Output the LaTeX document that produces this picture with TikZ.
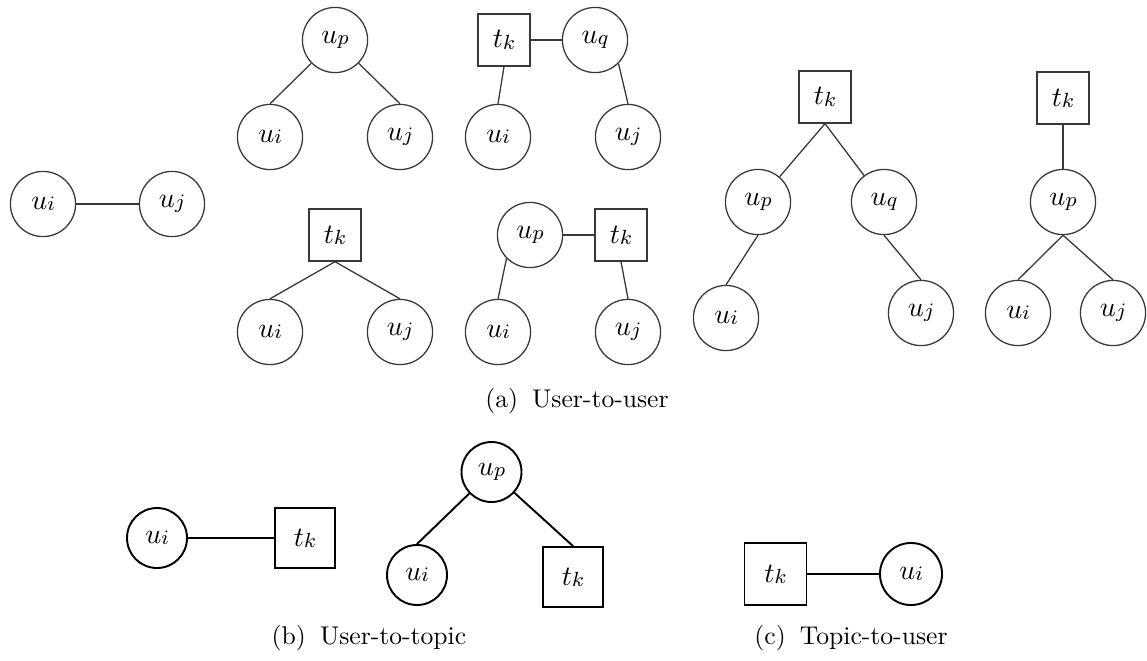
\documentclass[tikz,border=0pt]{standalone}
\usepackage{fontspec}
% italic symbol with a small subscript set close to the baseline
\newcommand\sym[2]{$#1$\raisebox{-0.5pt}{$\scriptstyle #2$}}
\definecolor{thinline}{HTML}{383838}
\tikzset{
  px/.style={x=0.39pt,y=-0.39pt},
  base/.style={inner sep=0pt,font=\fontsize{11.2}{13}\selectfont},
  ucirc/.style={base,circle,draw=thinline,line width=0.5pt,minimum size=25.4pt},
  tbox/.style={base,rectangle,draw=thinline,line width=0.5pt,minimum size=20.3pt},
  ucircb/.style={base,circle,draw=black,line width=0.75pt,minimum size=23.4pt},
  tboxb/.style={base,rectangle,draw=black,line width=0.75pt,minimum size=23.4pt},
  thinedge/.style={draw=thinline,line width=0.5pt},
  thickedge/.style={draw=black,line width=0.75pt},
  captext/.style={inner sep=0pt,font=\fontsize{10}{12}\selectfont}
}
\begin{document}
\begin{tikzpicture}[px]
\useasboundingbox (0,0) rectangle (1147,660);

% (a) user-to-user: direct link
\node[ucirc] (a1i) at (43,204) {\sym{u}{i}};
\node[ucirc] (a1j) at (172,204) {\sym{u}{j}};
\draw[thinedge] (a1i) -- (a1j);

% common user parent
\node[ucirc] (a2p) at (335,40) {\sym{u}{p}};
\node[ucirc] (a2i) at (270,137) {\sym{u}{i}};
\node[ucirc] (a2j) at (400,137) {\sym{u}{j}};
\draw[thinedge] (a2p) -- (a2i.north);
\draw[thinedge] (a2p) -- (a2j.north);

% topic linked to a second user
\node[tbox] (a3k) at (504,40) {\sym{t}{k}};
\node[ucirc] (a3q) at (595,40) {\sym{u}{q}};
\node[ucirc] (a3i) at (498,137) {\sym{u}{i}};
\node[ucirc] (a3j) at (628,137) {\sym{u}{j}};
\draw[thinedge] (a3k.east) -- (a3q.west);
\draw[thinedge] (a3k.south) -- (a3i.north);
\draw[thinedge] (a3q.south east) -- (a3j.north);

% common topic parent
\node[tbox] (a4k) at (335,235) {\sym{t}{k}};
\node[ucirc] (a4i) at (270,332) {\sym{u}{i}};
\node[ucirc] (a4j) at (400,332) {\sym{u}{j}};
\draw[thinedge] (a4k.south) -- (a4i.north);
\draw[thinedge] (a4k.south) -- (a4j.north);

% user linked to a topic
\node[ucirc] (a5p) at (530,235) {\sym{u}{p}};
\node[tbox] (a5k) at (621,235) {\sym{t}{k}};
\node[ucirc] (a5i) at (498,332) {\sym{u}{i}};
\node[ucirc] (a5j) at (628,332) {\sym{u}{j}};
\draw[thinedge] (a5p.east) -- (a5k.west);
\draw[thinedge] (a5p.south west) -- (a5i.north);
\draw[thinedge] (a5k.south) -- (a5j.north);

% topic over two users
\node[tbox] (a6k) at (825,97) {\sym{t}{k}};
\node[ucirc] (a6p) at (758,202) {\sym{u}{p}};
\node[ucirc] (a6q) at (884,202) {\sym{u}{q}};
\node[ucirc] (a6i) at (726,318) {\sym{u}{i}};
\node[ucirc] (a6j) at (921,313) {\sym{u}{j}};
\draw[thinedge] (a6k.south) -- (a6p);
\draw[thinedge] (a6k.south) -- (a6q);
\draw[thinedge] (a6p.south) -- (a6i.north);
\draw[thinedge] (a6q.south) -- (a6j.north);

% topic over one user
\node[tbox] (a7k) at (1063,98) {\sym{t}{k}};
\node[ucirc] (a7p) at (1063,202) {\sym{u}{p}};
\node[ucirc] (a7i) at (1018,313) {\sym{u}{i}};
\node[ucirc] (a7j) at (1113,313) {\sym{u}{j}};
\draw[thinedge] (a7k.south) -- (a7p.north);
\draw[thinedge] (a7p.south) -- (a7i.north);
\draw[thinedge] (a7p.south) -- (a7j.north);

\node[captext] (capa) at (577,401) {(a)\hspace{0.55em}User-to-user};

% (b) user-to-topic
\node[ucircb] (b1i) at (157,538) {\sym{u}{i}};
\node[tboxb] (b1k) at (305,538) {\sym{t}{k}};
\draw[thickedge] (b1i) -- (b1k);

\node[ucircb] (b2p) at (491.5,472) {\sym{u}{p}};
\node[ucircb] (b2i) at (417,575) {\sym{u}{i}};
\node[tboxb] (b2k) at (573,577) {\sym{t}{k}};
\draw[thickedge] (b2p) -- (b2i.north);
\draw[thickedge] (b2p) -- (b2k.north);

\node[captext] (capb) at (369,638) {(b)\hspace{0.55em}User-to-topic};

% (c) topic-to-user
\node[tboxb,minimum size=24.2pt] (c1k) at (775.5,574) {\sym{t}{k}};
\node[ucircb,minimum size=24.2pt] (c1i) at (911,574) {\sym{u}{i}};
\draw[thickedge] (c1k) -- (c1i);

\node[captext] (capc) at (851,638) {(c)\hspace{0.55em}Topic-to-user};
\end{tikzpicture}
\end{document}
